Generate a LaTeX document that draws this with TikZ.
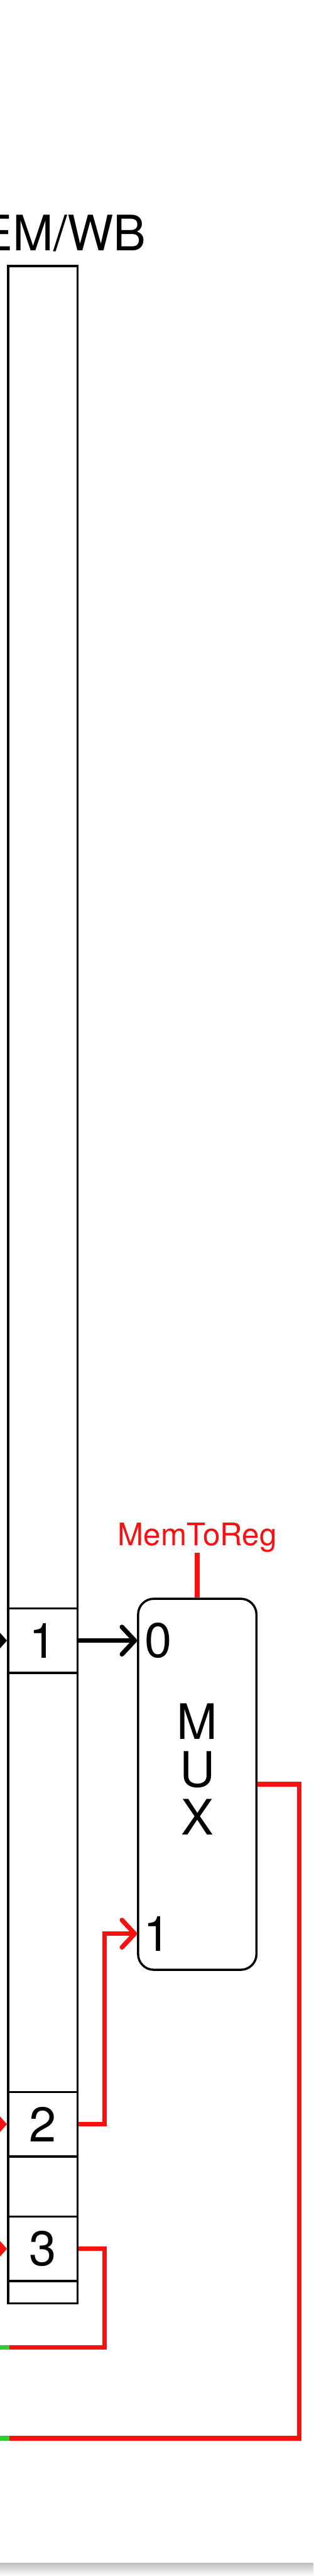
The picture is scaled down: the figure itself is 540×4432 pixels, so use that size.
\documentclass[tikz,border=0pt]{standalone}
\usepackage{fontspec}
\setmainfont{TeX Gyre Heros}
\usepackage{tikz}
\usetikzlibrary{arrows.meta, positioning}
\definecolor{ctrlred}{RGB}{250,16,16}
\definecolor{passgreen}{RGB}{50,205,50}

\begin{document}
\begin{tikzpicture}[
        x=0.01cm, y=-0.01cm,
        reg/.style={rectangle, draw, line width=1.07pt, inner sep=0pt},
        cell/.style={reg, minimum width=1.196cm, minimum height=1.11cm,
                     font=\fontsize{23.9}{28}\selectfont},
        muxbox/.style={rectangle, rounded corners=0.27cm, draw, line width=1.07pt,
                       minimum width=2.038cm, minimum height=6.38cm},
        title/.style={inner sep=0pt, font=\fontsize{23.9}{28}\selectfont},
        sel/.style={inner sep=0pt, text=ctrlred, font=\fontsize{15.2}{18}\selectfont},
        wire/.style={line width=2.25pt},
        barb/.style={-{Straight Barb[length=0.22cm, width=0.47cm, round]}},
        feed/.style={-{Triangle[length=0.24cm, width=0.52cm]}},
      ]
      \useasboundingbox (0,0) rectangle (540,4432);
      \clip (0,0) rectangle (540,4432);
      \fill[white] (0,0) rectangle (540,4432);
      \shade[top color=black!25, bottom color=white] (0,4410) rectangle (540,4432);

      \node[reg, minimum width=1.196cm, minimum height=35.03cm] (memwb) at (73.8,2210.1) {};
      \node[title, anchor=base] (stage) at (73.8,431.3) {MEM/WB};
      \node[cell] (c1) at (73.8,2822.6) {1};
      \node[cell] (c2) at (73.8,3654.7) {2};
      \node[cell] (c3) at (73.8,3869) {3};

      \node[muxbox] (mux) at (339.9,3069.8) {};
      \node[title, align=center, font=\fontsize{23.9}{23.5}\selectfont]
        (muxname) at ([yshift=0.26cm]mux.center) {M\\U\\X};
      \node[sel, above=0.77cm of mux] (memtoreg) {MemToReg};
      \draw[wire, ctrlred] (memtoreg.south) -- (mux.north);

      \coordinate (in0) at (c1.east -| mux.west);
      \path (mux.south west) ++(0,-64) coordinate (in1);
      \coordinate (wb3) at (15.8,4038.5);
      \coordinate (wb4) at (15.8,4195);
      \node[title, right=0.13cm of in0] (port0) {0};
      \node[title, right=0.11cm of in1] (port1) {1};

      \draw[wire, feed] ([xshift=-0.5cm]c1.west) -- (c1.west);
      \draw[wire, ctrlred, feed] ([xshift=-0.5cm]c2.west) -- (c2.west);
      \draw[wire, ctrlred, feed] ([xshift=-0.5cm]c3.west) -- (c3.west);

      \draw[wire, barb] (c1.east) -- (in0);
      \draw[wire, ctrlred, barb] (c2.east) -- ++(44.4,0) |- (in1);
      \draw[wire, ctrlred] (c3.east) -- ++(44.4,0) |- (wb3);
      \draw[wire, ctrlred] (mux.east) -- ++(72.2,0) |- (wb4);
      \draw[wire, passgreen] ([xshift=-0.5cm]wb3) -- (wb3);
      \draw[wire, passgreen] ([xshift=-0.5cm]wb4) -- (wb4);
    \end{tikzpicture}
\end{document}
